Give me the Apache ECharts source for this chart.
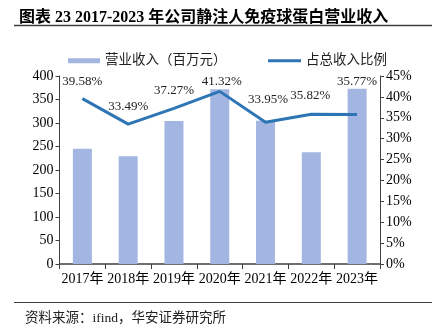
<!DOCTYPE html>
<html><head><meta charset="utf-8">
<script src="https://cdn.jsdelivr.net/npm/echarts@6/dist/echarts.min.js"></script>
<style>html,body{margin:0;padding:0;background:#fff}#c{width:440px;height:333px}</style>
</head><body><div id="c"></div>
<script>
var titleText = '图表 23 2017-2023 年公司静注人免疫球蛋白营业收入';
var sourceText = '资料来源：ifind，华安证券研究所';
var categories = ['2017年','2018年','2019年','2020年','2021年','2022年','2023年'];
var revenueName = '营业收入（百万元）';
var ratioName = '占总收入比例';
var revenue = [245, 229, 304, 372, 305, 238, 373];
var ratio = [0.3958, 0.3349, 0.3727, 0.4132, 0.3395, 0.3582, 0.3577];

var labelOffsets = [[0,-5.5],[0,-6],[0,-6],[2,2],[2.5,-11.5],[-1,-7],[0,-21.5]];
var serif = '"Liberation Serif","Times New Roman","Noto Sans CJK SC",serif';
var chart = echarts.init(document.getElementById('c'));
chart.setOption({
  animation: false,
  backgroundColor: '#fff',
  title: {
    text: titleText, left: 14, top: 5,
    textStyle: {fontFamily: serif, fontWeight: 'bold', fontSize: 16, color: '#000'}
  },
  graphic: [
    {type:'line', shape:{x1:14,y1:25.5,x2:432,y2:25.5}, style:{stroke:'#404040', lineWidth:1.5}},
    {type:'line', shape:{x1:14,y1:302.5,x2:432,y2:302.5}, style:{stroke:'#404040', lineWidth:1.2}},
    {type:'text', left: 25, top: 312, style:{text: sourceText, font: '13.5px ' + serif, fill:'#222'}}
  ],
  legend: [
    {data:[{name: revenueName, icon:'rect'}], left: 63, top: 49, itemWidth: 32, itemHeight: 5, itemGap: 4,
     textStyle:{fontFamily: serif, fontSize: 13.5, color:'#222'}},
    {data:[{name: ratioName, icon:'rect'}], left: 263, top: 49, itemWidth: 33, itemHeight: 3,
     textStyle:{fontFamily: serif, fontSize: 13.5, color:'#222'}}
  ],
  grid: {left: 59.5, right: 60, top: 76, bottom: 69, containLabel: false},
  xAxis: {
    type: 'category', data: categories, boundaryGap: true,
    axisLine: {lineStyle:{color:'#404040', width:1.5}},
    axisTick: {show:true, alignWithLabel:false, length:5, lineStyle:{color:'#404040'}},
    axisLabel: {fontFamily: serif, fontSize: 14, color:'#000', margin: 8, interval: 0}
  },
  yAxis: [
    {type:'value', min:0, max:400, interval:50, splitLine:{show:false},
     axisLine:{show:true, lineStyle:{color:'#404040'}},
     axisTick:{show:true, length:4, lineStyle:{color:'#404040'}},
     axisLabel:{fontFamily: serif, fontSize:14, color:'#000', margin:6}},
    {type:'value', min:0, max:0.45, interval:0.05, splitLine:{show:false},
     axisLine:{show:true, lineStyle:{color:'#404040'}},
     axisTick:{show:true, length:4, lineStyle:{color:'#404040'}},
     axisLabel:{fontFamily: serif, fontSize:14, color:'#000', margin:6,
       formatter: function(v){ return Math.round(v*100) + '%'; }}}
  ],
  series: [
    {name: revenueName, type:'bar', data: revenue, barWidth: 19,
     itemStyle:{color:'#A2B6E1'}},
    {name: ratioName, type:'line', yAxisIndex:1, symbol:'circle', symbolSize: 0.01, showSymbol: true,
     lineStyle:{color:'#2E75B6', width:3}, itemStyle:{color:'#2E75B6'},
     data: ratio.map(function(v, i){
       return {value: v, label:{show:true, offset: labelOffsets[i]}};
     }),
     label:{show:true, position:'top', distance:5, fontFamily: serif, fontSize:13, color:'#222',
       formatter: function(p){ return (p.value*100).toFixed(2) + '%'; }}}
  ]
});
</script></body></html>
